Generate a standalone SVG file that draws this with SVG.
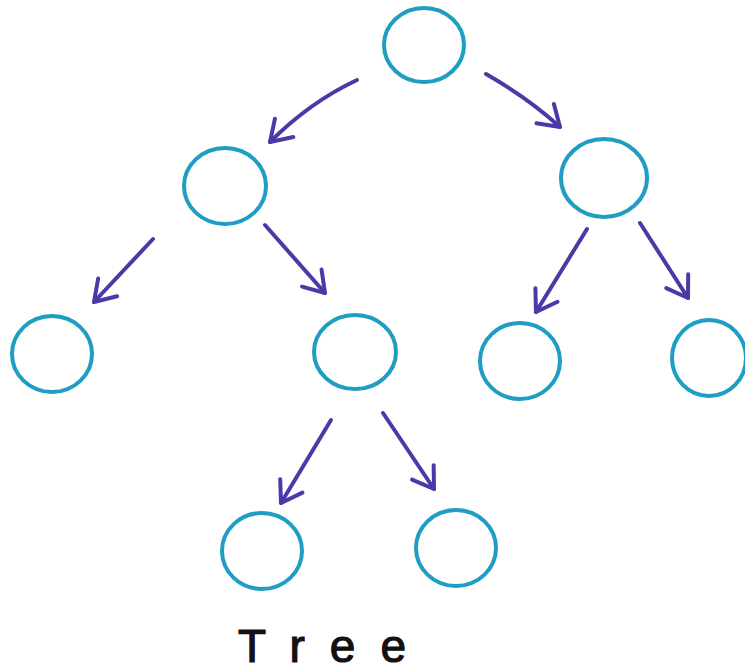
<svg xmlns="http://www.w3.org/2000/svg" width="745" height="671" viewBox="0 0 745 671">
  <style>
    .node { fill: none; stroke: #1f9dc2; stroke-width: 4; }
    .edge { fill: none; stroke: #4a3aa8; stroke-width: 4; stroke-linecap: round; stroke-linejoin: round; }
    .label { font-family: "Liberation Sans", "DejaVu Sans", sans-serif; font-size: 46px; fill: #111; stroke: #111; stroke-width: 1.2; }
  </style>
  <defs>
    <marker id="head" markerUnits="userSpaceOnUse" viewBox="-26 -16 30 32" refX="0" refY="0" markerWidth="30" markerHeight="32" orient="auto" overflow="visible">
      <path d="M -20 -13 L 0 0 L -20 13" fill="none" stroke="#4a3aa8" stroke-width="4" stroke-linecap="round" stroke-linejoin="round"/>
    </marker>
  </defs>

  <rect width="745" height="671" fill="#ffffff"/>

  <!-- connectors between parent and child nodes -->
  <g id="edges">
    <path class="edge" d="M 357 80 Q 310 102 270 142" marker-end="url(#head)"/>
    <path class="edge" d="M 486 74 Q 528 98 560 127" marker-end="url(#head)"/>
    <path class="edge" d="M 153 239 L 94 302" marker-end="url(#head)"/>
    <path class="edge" d="M 265 225 L 325 293" marker-end="url(#head)"/>
    <path class="edge" d="M 587 229 L 536 312" marker-end="url(#head)"/>
    <path class="edge" d="M 640 223 L 688 298" marker-end="url(#head)"/>
    <path class="edge" d="M 331 420 L 281 503" marker-end="url(#head)"/>
    <path class="edge" d="M 383 413 L 434 489" marker-end="url(#head)"/>
  </g>

  <!-- tree nodes -->
  <g id="n-root"><ellipse class="node" cx="424" cy="45" rx="40" ry="37"/></g>
  <g id="n-l"><ellipse class="node" cx="225" cy="186" rx="41" ry="38"/></g>
  <g id="n-r"><ellipse class="node" cx="604" cy="178" rx="43" ry="39"/></g>
  <g id="n-ll"><ellipse class="node" cx="52" cy="354" rx="40" ry="38"/></g>
  <g id="n-lr"><ellipse class="node" cx="355" cy="352" rx="41" ry="37"/></g>
  <g id="n-rl"><ellipse class="node" cx="520" cy="361" rx="40" ry="38"/></g>
  <g id="n-rr"><ellipse class="node" cx="709" cy="358" rx="37" ry="38"/></g>
  <g id="n-lrl"><ellipse class="node" cx="262" cy="551" rx="40" ry="38"/></g>
  <g id="n-lrr"><ellipse class="node" cx="456" cy="548" rx="40" ry="38"/></g>

  <text class="label" x="238" y="662" textLength="168" lengthAdjust="spacing">Tree</text>
</svg>
